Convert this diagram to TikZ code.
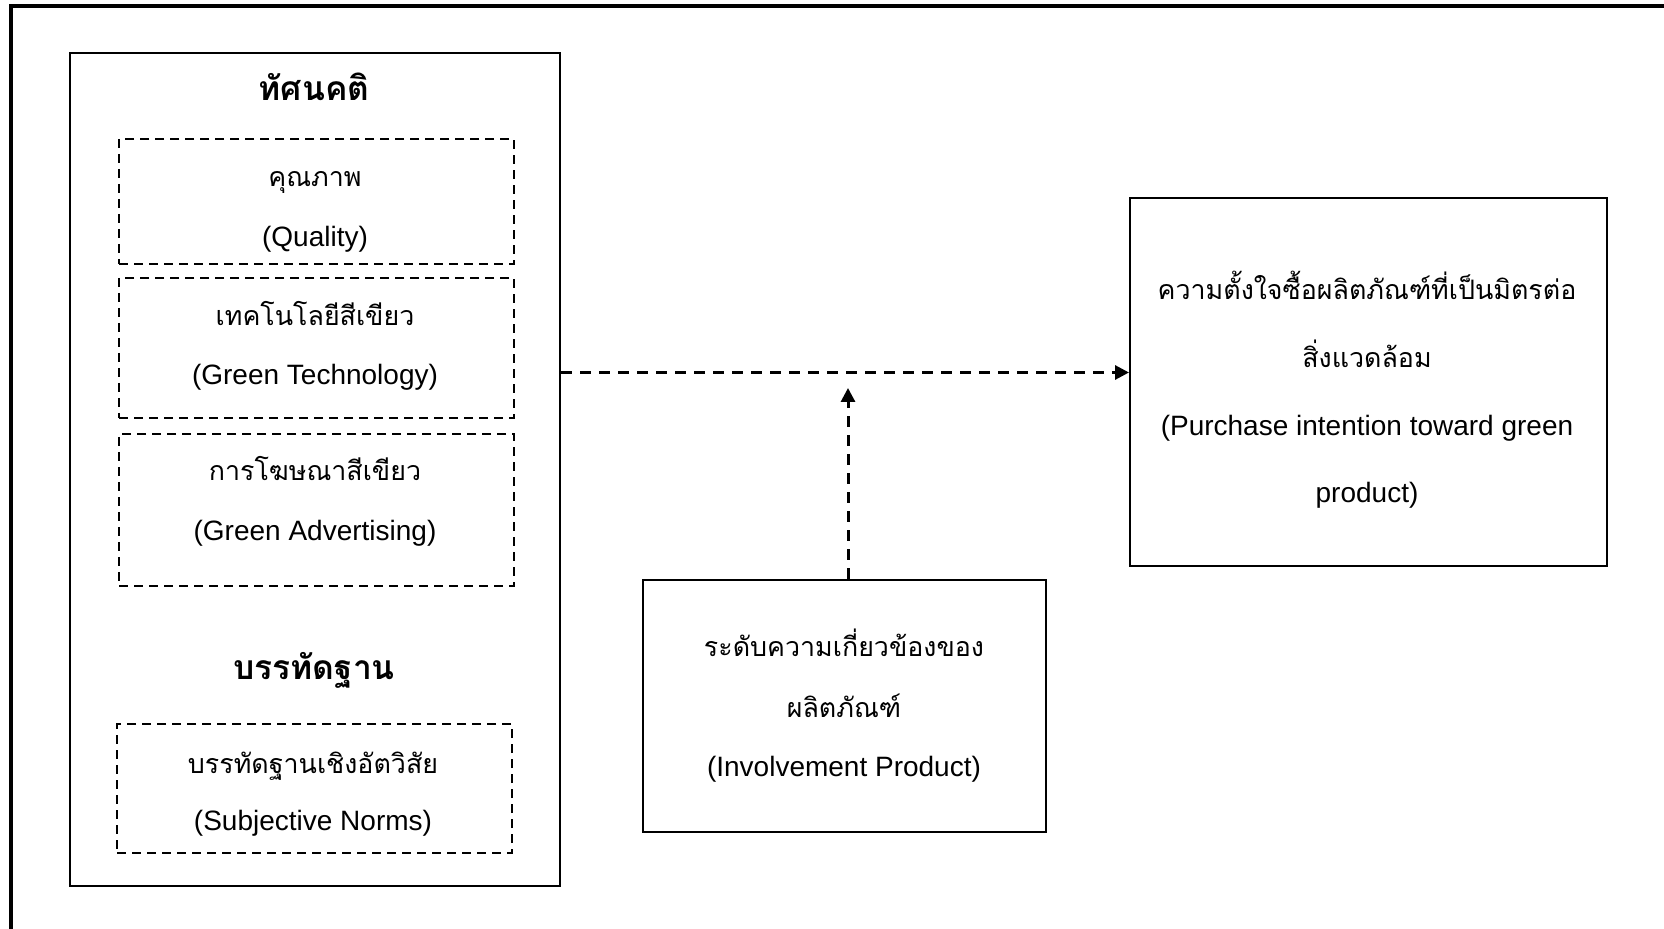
\documentclass[tikz,border=0pt]{standalone}
\usepackage{fontspec}
\setmainfont{Liberation Sans}
\newfontfamily\thai[Script=Thai]{Loma}
\usetikzlibrary{arrows.meta}
\tikzset{
  x=0.5pt, y=-0.5pt,
  box/.style={draw, line width=1pt, inner sep=0pt, anchor=north west},
  dbox/.style={draw, line width=1pt, dash pattern=on 4.5pt off 3pt, inner sep=0pt, anchor=north west},
  txt/.style={inner sep=0pt, anchor=base, font=\fontsize{14pt}{16pt}\selectfont},
  ttxt/.style={inner sep=0pt, anchor=base, font=\thai\fontsize{13.4pt}{16pt}\selectfont},
  title/.style={inner sep=0pt, anchor=base, font=\thai\bfseries\fontsize{16.8pt}{18pt}\selectfont},
  conn/.style={line width=1.5pt, dash pattern=on 5.5pt off 4pt, -{Triangle[length=7pt,width=7pt]}},
}
\begin{document}
\begin{tikzpicture}
\useasboundingbox (0,0) rectangle (1664,929);
% page frame (top and left edges)
\coordinate (fbl) at (11,935);
\coordinate (ftl) at (11,6);
\coordinate (ftr) at (1670,6);
\draw[line width=2pt] (fbl) -- (ftl) -- (ftr);

% left big box
\node[box, minimum width=490*0.5pt, minimum height=833*0.5pt] (leftbox) at (69,52) {};
\node[title] (t1) at (314,101) {ทัศนคติ};

\node[dbox, minimum width=395*0.5pt, minimum height=125*0.5pt] (d1) at (118,138) {};
\node[ttxt] (d1a) at (315,187) {คุณภาพ};
\node[txt]  (d1b) at (315,247) {(Quality)};

\node[dbox, minimum width=395*0.5pt, minimum height=140*0.5pt] (d2) at (118,277) {};
\node[ttxt] (d2a) at (315,326) {เทคโนโลยีสีเขียว};
\node[txt]  (d2b) at (315,385) {(Green Technology)};

\node[dbox, minimum width=395*0.5pt, minimum height=152*0.5pt] (d3) at (118,433) {};
\node[ttxt] (d3a) at (315,481) {การโฆษณาสีเขียว};
\node[txt]  (d3b) at (315,541) {(Green Advertising)};

\node[title] (t2) at (314,680) {บรรทัดฐาน};

\node[dbox, minimum width=395*0.5pt, minimum height=129*0.5pt] (d4) at (116,723) {};
\node[ttxt] (d4a) at (313,773) {บรรทัดฐานเชิงอัตวิสัย};
\node[txt]  (d4b) at (313,830.5) {(Subjective Norms)};

% right box
\node[box, minimum width=477*0.5pt, minimum height=368*0.5pt] (rightbox) at (1129,197) {};
\node[ttxt] (r1) at (1367,300) {ความตั้งใจซื้อผลิตภัณฑ์ที่เป็นมิตรต่อ};
\node[ttxt] (r2) at (1367,368) {สิ่งแวดล้อม};
\node[txt]  (r3) at (1367,436) {(Purchase intention toward green};
\node[txt]  (r4) at (1367,503) {product)};

% bottom middle box
\node[box, minimum width=403*0.5pt, minimum height=252*0.5pt] (midbox) at (642,579) {};
\node[ttxt] (m1) at (844,657) {ระดับความเกี่ยวข้องของ};
\node[ttxt] (m2) at (844,717) {ผลิตภัณฑ์};
\node[txt]  (m3) at (844,776.5) {(Involvement Product)};

% connectors
\coordinate (hy) at (0,372.5);
\draw[conn] (leftbox.east |- hy) -- (rightbox.west |- hy);
\coordinate (vt) at (848,388);
\draw[conn] (midbox.north -| vt) -- (vt);
\end{tikzpicture}
\end{document}
